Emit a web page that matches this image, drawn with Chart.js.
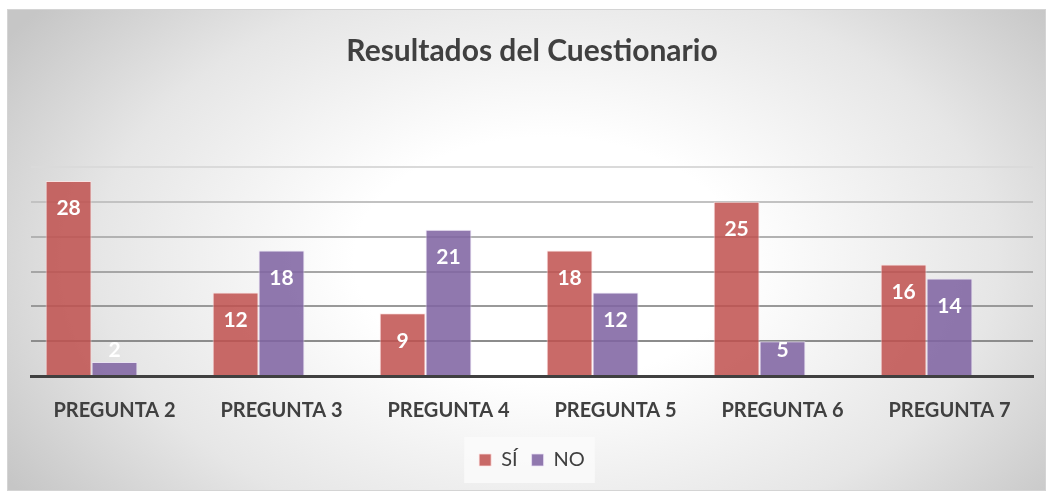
<!DOCTYPE html>
<html>
<head>
<meta charset="utf-8">
<script src="https://cdn.jsdelivr.net/npm/chart.js@4.4.1/dist/chart.umd.min.js"></script>
<style>
  html, body { margin: 0; padding: 0; background: #ffffff; }
  #wrap {
    position: absolute; left: 7px; top: 9px; width: 1037px; height: 480px;
    border: 1px solid #d4d4d4;
    background: radial-gradient(ellipse 62% 85% at 52% 52%, #ffffff 0%, #ffffff 30%, #e6e6e6 70%, #c6c6c6 100%);
  }
</style>
</head>
<body>
<div id="wrap"><canvas id="c"></canvas></div>
<script>
const categories = ['PREGUNTA 2', 'PREGUNTA 3', 'PREGUNTA 4', 'PREGUNTA 5', 'PREGUNTA 6', 'PREGUNTA 7'];
const siValues = [28, 12, 9, 18, 25, 16];
const noValues = [2, 18, 21, 12, 5, 14];
const emptySeries = [null, null, null, null, null, null];
const seriesNames = ['SÍ', 'NO'];
const chartTitle = 'Resultados del Cuestionario';
const yMax = 30;
const yStep = 5;

const FONT = 'Lato, "Open Sans", sans-serif';
const gridColors = {0: 'rgba(0,0,0,0)', 5: '#8c8c8c', 10: '#999999', 15: '#a6a6a6', 20: '#b2b2b2', 25: '#c2c2c2', 30: '#dadada'};

const valueLabels = {
  id: 'valueLabels',
  afterDatasetsDraw(chart) {
    const ctx = chart.ctx;
    ctx.save();
    ctx.font = 'bold 21px ' + FONT;
    ctx.fillStyle = '#ffffff';
    ctx.textAlign = 'center';
    ctx.textBaseline = 'middle';
    [0, 1].forEach(di => {
      const meta = chart.getDatasetMeta(di);
      const data = chart.data.datasets[di].data;
      meta.data.forEach((el, i) => {
        if (data[i] == null) return;
        const cy = Math.min(el.y + 27.5, el.base - 25);
        ctx.fillText(String(data[i]), el.x, cy);
      });
    });
    ctx.restore();
  }
};

const legendBg = {
  id: 'legendBg',
  beforeDraw(chart) {
    const lg = chart.legend;
    if (!lg || !lg.legendHitBoxes || !lg.legendHitBoxes.length) return;
    const boxes = lg.legendHitBoxes;
    const minX = Math.min(...boxes.map(b => b.left));
    const maxX = Math.max(...boxes.map(b => b.left + b.width));
    const midY = boxes[0].top + boxes[0].height / 2;
    const ctx = chart.ctx;
    ctx.save();
    ctx.fillStyle = 'rgba(250,250,250,0.85)';
    ctx.fillRect(minX - 15, midY - 23, (maxX - minX) + 25, 46);
    ctx.restore();
  }
};

new Chart(document.getElementById('c'), {
  type: 'bar',
  data: {
    labels: categories,
    datasets: [
      { label: seriesNames[0], data: siValues, backgroundColor: 'rgba(192,80,77,0.85)', borderColor: 'rgba(255,225,225,0.75)', borderWidth: 1 },
      { label: seriesNames[1], data: noValues, backgroundColor: 'rgba(128,100,162,0.87)', borderColor: 'rgba(235,225,245,0.75)', borderWidth: 1 },
      { label: '', data: emptySeries, backgroundColor: 'rgba(0,0,0,0)' }
    ]
  },
  options: {
    responsive: true,
    maintainAspectRatio: false,
    animation: false,
    datasets: { bar: { categoryPercentage: 0.825, barPercentage: 1 } },
    layout: { padding: { left: 23, right: 12, top: 0, bottom: 10 } },
    plugins: {
      tooltip: { enabled: false },
      title: {
        display: true, text: chartTitle, color: '#404040',
        font: { family: FONT, size: 30, weight: 'bold' },
        padding: { top: 23, bottom: 98 }
      },
      legend: {
        position: 'bottom',
        labels: {
          filter: item => item.text !== '',
          color: '#404040',
          font: { family: FONT, size: 20 },
          boxWidth: 12, boxHeight: 12, padding: 14
        }
      }
    },
    scales: {
      x: {
        grid: { display: false, drawTicks: false },
        border: { display: true, color: '#404040', width: 3 },
        ticks: { color: '#404040', font: { family: FONT, size: 20, weight: 'bold' }, padding: 23, maxRotation: 0 },
        afterFit(scale) { scale.height = 60; }
      },
      y: {
        min: 0, max: yMax,
        ticks: { display: false, stepSize: yStep },
        border: { display: false },
        grid: { drawTicks: false, lineWidth: 2, color: c => gridColors[c.tick.value] || '#aaaaaa' },
        afterFit(scale) { scale.width = 0; }
      }
    }
  },
  plugins: [legendBg, valueLabels]
});
</script>
</body>
</html>
